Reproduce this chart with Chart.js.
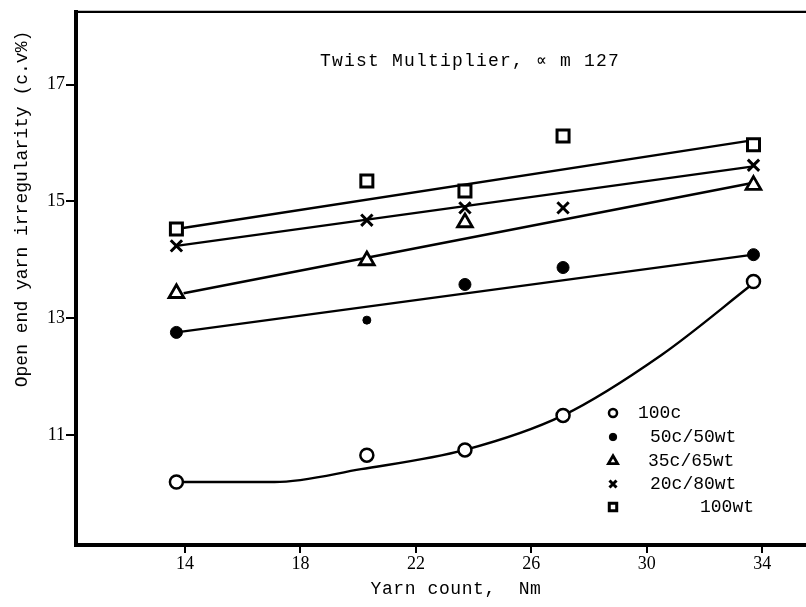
<!DOCTYPE html>
<html>
<head>
<meta charset="utf-8">
<script src="https://cdn.jsdelivr.net/npm/chart.js@4/dist/chart.umd.min.js"></script>
<style>
  html, body { margin: 0; padding: 0; background: #fff; }
  #wrap { width: 806px; height: 607px; position: relative; }
</style>
</head>
<body>
<div id="wrap"><canvas id="c" width="806" height="607"></canvas></div>
<script>
// ---- data ----
const yarnCount = [13.7, 20.3, 23.7, 27.1, 33.7];           // Nm
const cv100c    = [10.20, 10.66, 10.75, 11.34, 13.63];
const cv50c50wt = [12.76, 12.97, 13.58, 13.87, 14.09];
const cv35c65wt = [13.43, 13.99, 14.64, null, 15.28];
const cv20c80wt = [14.24, 14.68, 14.89, 14.89, 15.62];
const cv100wt   = [14.53, 15.35, 15.18, 16.12, 15.97];

// fitted trend lines
const fitLineX   = [13.7, 33.7];
const fit50c50wt = [12.76, 14.09];
const fit35c65wt = [13.43, 15.32];
const fit20c80wt = [14.24, 15.60];
const fit100wt   = [14.53, 16.05];
const curve100cX = [13.7, 17.1, 20.1, 23.7, 27.1, 30.5, 33.7];
const curve100cY = [10.20, 10.20, 10.42, 10.75, 11.34, 12.37, 13.60];

const seriesLabels = ['100c', '50c/50wt', '35c/65wt', '20c/80wt', '100wt'];
const xTicks = [14, 18, 22, 26, 30, 34];
const yTicks = [11, 13, 15, 17];

const chartTitle = 'Twist Multiplier, \u221D m 127';
const xTitle = 'Yarn count,  Nm';
const yTitle = 'Open end yarn irregularity (c.v%)';

// ---- helpers ----
const pts = (xs, ys) => xs.map((x, i) => ({ x: x, y: ys[i] })).filter(p => p.y !== null);

const markerStyles = [
  { pointStyle: 'circle',   radius: 6.5, fill: '#fff', lw: 2.5 },
  { pointStyle: 'circle',   radius: 6,   fill: '#000', lw: 1 },
  { pointStyle: 'triangle', radius: 8.5, fill: '#fff', lw: 2.8 },
  { pointStyle: 'crossRot', radius: 8,   fill: '#000', lw: 3 },
  { pointStyle: 'rect',     radius: 8.5, fill: '#fff', lw: 3 }
];
const seriesValues = [cv100c, cv50c50wt, cv35c65wt, cv20c80wt, cv100wt];

const markerDatasets = seriesValues.map((vals, i) => ({
  type: 'scatter',
  label: seriesLabels[i],
  data: pts(yarnCount, vals),
  showLine: false,
  pointStyle: markerStyles[i].pointStyle,
  pointRadius: i === 1 ? [6, 4, 6, 6, 6] : markerStyles[i].radius,
  pointBackgroundColor: markerStyles[i].fill,
  pointBorderColor: '#000',
  pointBorderWidth: markerStyles[i].lw,
  order: 0
}));

const lineDs = (label, data, extra) => Object.assign({
  type: 'line',
  label: label,
  data: data,
  borderColor: '#000',
  borderWidth: 2.4,
  pointRadius: 0,
  fill: false,
  tension: 0,
  order: 1
}, extra || {});

const fitDatasets = [
  lineDs('fit 100c', pts(curve100cX, curve100cY), { cubicInterpolationMode: 'monotone' }),
  lineDs('fit 50c/50wt', pts(fitLineX, fit50c50wt)),
  lineDs('fit 35c/65wt', pts([13.95, 33.7], fit35c65wt)),
  lineDs('fit 20c80wt', pts(fitLineX, fit20c80wt)),
  lineDs('fit 100wt', pts(fitLineX, fit100wt))
];

// ---- annotations plugin (top border, title, axis titles, legend) ----
const annot = {
  id: 'annot',
  afterDraw(chart) {
    const ctx = chart.ctx;
    const a = chart.chartArea;
    ctx.save();
    // top frame line
    ctx.strokeStyle = '#000';
    ctx.lineWidth = 2.2;
    ctx.beginPath();
    ctx.moveTo(a.left - 2, a.top);
    ctx.lineTo(chart.width, a.top);
    ctx.stroke();

    ctx.fillStyle = '#000';
    // inner title
    ctx.font = '18px "Liberation Mono", "DejaVu Sans Mono", monospace';
    ctx.textAlign = 'left';
    ctx.textBaseline = 'middle';
    if ('letterSpacing' in ctx) ctx.letterSpacing = '1.2px';
    ctx.fillText(chartTitle, 320, 61);

    // x title
    if ('letterSpacing' in ctx) ctx.letterSpacing = '0.6px';
    ctx.font = '18px "Liberation Mono", monospace';
    ctx.textAlign = 'center';
    ctx.fillText(xTitle, 456, 589);
    if ('letterSpacing' in ctx) ctx.letterSpacing = '0px';

    // y title (rotated)
    ctx.save();
    ctx.translate(22, 209);
    ctx.rotate(-Math.PI / 2);
    ctx.font = '18px "Liberation Mono", monospace';
    ctx.textAlign = 'center';
    ctx.textBaseline = 'middle';
    ctx.fillText(yTitle, 0, 0);
    ctx.restore();

    // legend
    const rowsY = [413, 437, 461, 484, 507];
    const textX = [638, 650, 648, 650, 700];
    const drawPoint = Chart.helpers && Chart.helpers.drawPoint;
    ctx.font = '18px "Liberation Mono", monospace';
    ctx.textAlign = 'left';
    ctx.textBaseline = 'middle';
    seriesLabels.forEach((lab, i) => {
      const m = markerStyles[i];
      ctx.fillStyle = m.fill;
      ctx.strokeStyle = '#000';
      ctx.lineWidth = m.lw;
      if (drawPoint) {
        drawPoint(ctx, { pointStyle: m.pointStyle, radius: m.radius * 0.62, rotation: 0, borderWidth: m.lw }, 613, rowsY[i]);
      }
      ctx.fillStyle = '#000';
      ctx.fillText(lab, textX[i], rowsY[i]);
    });
    ctx.restore();
  }
};

new Chart(document.getElementById('c'), {
  data: { datasets: fitDatasets.concat(markerDatasets) },
  options: {
    responsive: false,
    animation: false,
    devicePixelRatio: 1,
    layout: { autoPadding: false, padding: { top: 10, right: 0, left: 0, bottom: 0 } },
    plugins: {
      legend: { display: false },
      tooltip: { enabled: false },
      title: { display: false }
    },
    scales: {
      x: {
        type: 'linear',
        min: 10.22,
        max: 35.52,
        afterFit: s => { s.height = 62; },
        afterBuildTicks: s => { s.ticks = xTicks.map(v => ({ value: v })); },
        border: { display: true, color: '#000', width: 4 },
        grid: { display: true, drawOnChartArea: false, drawTicks: true, tickLength: 8, color: '#000', lineWidth: 2 },
        ticks: {
          color: '#000',
          padding: 0,
          autoSkip: false,
          maxRotation: 0,
          font: { family: '"Liberation Serif", serif', size: 18 },
          callback: v => String(v)
        }
      },
      y: {
        type: 'linear',
        min: 9.123,
        max: 18.245,
        afterFit: s => { s.width = 76; },
        afterBuildTicks: s => { s.ticks = yTicks.map(v => ({ value: v })); },
        border: { display: true, color: '#000', width: 4 },
        grid: { display: true, drawOnChartArea: false, drawTicks: true, tickLength: 10, color: '#000', lineWidth: 2 },
        ticks: {
          color: '#000',
          padding: 1,
          autoSkip: false,
          font: { family: '"Liberation Serif", serif', size: 18 },
          callback: v => String(v)
        }
      }
    }
  },
  plugins: [annot]
});
</script>
</body>
</html>
